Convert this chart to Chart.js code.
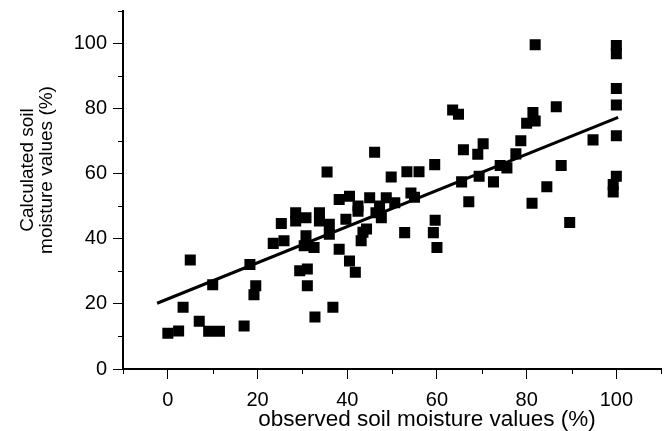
<!DOCTYPE html>
<html>
<head>
<meta charset="utf-8">
<script src="https://cdn.jsdelivr.net/npm/chart.js@4/dist/chart.umd.min.js"></script>
<style>
  html, body { margin: 0; padding: 0; background: #ffffff; }
  #chart { display: block; }
</style>
</head>
<body>
<canvas id="chart" width="669" height="431"></canvas>
<script>
// ==========================================
// DATA
// ==========================================

// observed soil moisture (%)
const observed = [
    0, 2.4, 3.4, 5, 7, 9.1, 10, 11.5, 17, 18.3,
    19.6, 19.2, 23.5, 25.3, 25.9, 28.5, 28.5, 30.8, 33.8, 33.8,
    36, 30.8, 30.4, 32.6, 36, 38.2, 29.4, 31.1, 31.1, 32.8,
    36.8, 40.5, 41.8, 43.1, 43.5, 44.3, 38.2, 40.5, 39.7, 42.4,
    42.4, 45, 46.4, 47.2, 48.7, 50.6, 47.6, 52.8, 35.5, 46.1,
    49.8, 53.3, 56, 54.2, 55, 59.5, 59.6, 59.2, 60, 63.5,
    64.8, 65.9, 65.5, 67.1, 69.1, 70.3, 69.4, 72.6, 74.1, 75.6,
    77.6, 78.7, 80, 81.4, 81.9, 81.9, 86.6, 81.2, 84.5, 87.7,
    89.6, 94.8, 100, 100, 100, 100, 100, 100, 99.3, 99.3
];

// calculated soil moisture (%)
const calculated = [
    11, 11.7, 19, 33.5, 14.7, 11.6, 25.9, 11.6, 13.2, 32.1,
    25.6, 22.8, 38.6, 44.7, 39.4, 48, 45.5, 46.5, 48, 45.5,
    44.5, 40.9, 37.9, 37.3, 41.4, 36.8, 30.2, 30.7, 25.6, 16,
    19, 33.2, 29.7, 39.4, 42, 43, 52.1, 53.1, 46, 50.1,
    48.5, 52.6, 48, 50.1, 52.6, 51.1, 46.5, 41.9, 60.5, 66.6,
    59, 60.6, 60.6, 54.1, 52.8, 62.8, 45.7, 41.9, 37.3, 79.6,
    78.3, 67.4, 57.5, 51.4, 66, 69.2, 59.2, 57.5, 62.5, 61.8,
    66.1, 70.1, 75.5, 78.8, 76.2, 99.6, 80.6, 50.9, 56, 62.5,
    45, 70.4, 99.4, 96.9, 86.2, 81.1, 71.7, 59.2, 56.7, 54.4
];

// regression line end points
const fitX = [-2.4, 100.4];
const fitY = [20.2, 77.3];

// labelled (major) and minor ticks
const xTickLabels = [0, 20, 40, 60, 80, 100];
const xMinorTicks = [-10, 10, 30, 50, 70, 90, 110];
const yTickLabels = [0, 20, 40, 60, 80, 100];
const yMinorTicks = [10, 30, 50, 70, 90, 110];

const xTitle = 'observed soil moisture values (%)';
const yTitle = ['Calculated soil', 'moisture values (%)'];

// ==========================================
// CHART
// ==========================================

const FONT = "'Liberation Sans', Arial, sans-serif";

const scatterPoints = observed.map((x, i) => ({ x: x, y: calculated[i] }));
const fitPoints = fitX.map((x, i) => ({ x: x, y: fitY[i] }));

// shorter minor ticks and the axis titles
const extrasPlugin = {
    id: 'extras',
    afterDraw(chart) {
        const ctx = chart.ctx;
        const xScale = chart.scales.x;
        const yScale = chart.scales.y;
        const area = chart.chartArea;

        ctx.save();
        ctx.strokeStyle = '#000';
        ctx.lineWidth = 1;
        yMinorTicks.forEach(v => {
            const py = Math.round(yScale.getPixelForValue(v)) + 0.5;
            ctx.beginPath();
            ctx.moveTo(area.left - 5, py);
            ctx.lineTo(area.left, py);
            ctx.stroke();
        });
        xMinorTicks.forEach(v => {
            const px = Math.round(xScale.getPixelForValue(v)) + 0.5;
            ctx.beginPath();
            ctx.moveTo(px, area.bottom);
            ctx.lineTo(px, area.bottom + 5);
            ctx.stroke();
        });

        ctx.fillStyle = '#000';
        ctx.textAlign = 'center';
        ctx.textBaseline = 'alphabetic';
        ctx.font = '22.5px ' + FONT;
        ctx.fillText(xTitle, 427, 426);

        ctx.font = '19px ' + FONT;
        ctx.translate(0, 170);
        ctx.rotate(-Math.PI / 2);
        ctx.fillText(yTitle[0], 0, 33);
        ctx.fillText(yTitle[1], 0, 52);
        ctx.restore();
    }
};

new Chart(document.getElementById('chart'), {
    type: 'scatter',
    data: {
        datasets: [{
            type: 'line',
            data: fitPoints,
            borderColor: '#000',
            borderWidth: 3,
            pointRadius: 0,
            fill: false
        }, {
            data: scatterPoints,
            pointStyle: 'rect',
            pointRadius: 7.8,
            pointBorderWidth: 0,
            backgroundColor: '#000',
            borderColor: '#000'
        }]
    },
    options: {
        responsive: false,
        animation: false,
        layout: {
            padding: { left: 0, right: 7, top: 11, bottom: 0 }
        },
        plugins: {
            legend: { display: false },
            tooltip: { enabled: false }
        },
        scales: {
            x: {
                type: 'linear',
                min: -10,
                max: 110,
                afterFit: function(scale) {
                    scale.height = 62;
                    scale.paddingLeft = 0;
                    scale.paddingRight = 0;
                },
                ticks: {
                    stepSize: 10,
                    autoSkip: false,
                    maxRotation: 0,
                    padding: 9,
                    color: '#000',
                    font: { size: 20, family: FONT },
                    callback: function(value) {
                        return xTickLabels.includes(value) ? String(value) : '';
                    }
                },
                grid: {
                    drawOnChartArea: false,
                    drawTicks: true,
                    tickLength: 10,
                    tickColor: function(c) {
                        return xTickLabels.includes(c.tick.value) ? '#000' : 'rgba(0,0,0,0)';
                    },
                    tickWidth: 1
                },
                border: { display: true, color: '#000', width: 2 }
            },
            y: {
                type: 'linear',
                min: 0,
                max: 110,
                afterFit: function(scale) {
                    scale.width = 123;
                    scale.paddingTop = 0;
                    scale.paddingBottom = 0;
                },
                ticks: {
                    stepSize: 10,
                    autoSkip: false,
                    padding: 6,
                    color: '#000',
                    font: { size: 20, family: FONT },
                    callback: function(value) {
                        return yTickLabels.includes(value) ? String(value) : '';
                    }
                },
                grid: {
                    drawOnChartArea: false,
                    drawTicks: true,
                    tickLength: 10,
                    tickColor: function(c) {
                        return yTickLabels.includes(c.tick.value) ? '#000' : 'rgba(0,0,0,0)';
                    },
                    tickWidth: 1
                },
                border: { display: true, color: '#000', width: 2 }
            }
        }
    },
    plugins: [extrasPlugin]
});
</script>
</body>
</html>
